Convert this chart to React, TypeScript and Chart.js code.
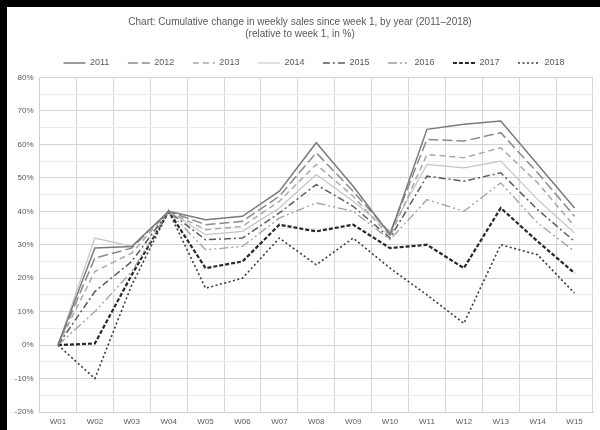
import React, { useEffect, useRef } from 'react';
import { Chart, registerables } from 'chart.js';

Chart.register(...registerables);

// Week labels along the x axis
const weeks = ['W01', 'W02', 'W03', 'W04', 'W05', 'W06', 'W07', 'W08', 'W09', 'W10', 'W11', 'W12', 'W13', 'W14', 'W15'];

// One series per year
const years = ['2011', '2012', '2013', '2014', '2015', '2016', '2017', '2018'];

// Cumulative change since week 1, in %
const y2011 = [0, 29, 29.5, 40, 37.5, 38.5, 46, 60.5, 47.5, 33, 64.5, 66, 67, 54, 41];
const y2012 = [0, 26, 29, 40, 36, 37, 44.5, 57.5, 46, 33.5, 61.5, 61, 63.5, 51.5, 38.5];
const y2013 = [0, 22, 27.5, 40, 34.5, 35.5, 43, 54, 44.5, 32.5, 57, 56, 59, 48.5, 35.5];
const y2014 = [0, 32, 29.5, 40, 33, 34, 41, 51, 43, 34, 54, 53, 55, 43.5, 33.5];
const y2015 = [0, 16, 25, 40, 31.5, 32, 39.5, 48, 41.5, 32, 50.5, 49, 51.5, 40.5, 31];
const y2016 = [0, 10, 22, 40, 28.5, 29.5, 38, 42.5, 40, 31.5, 43.5, 40, 48.5, 36.5, 28];
const y2017 = [0, 0.5, 21, 40, 23, 25, 36, 34, 36, 29, 30, 23, 41, 31, 21.5];
const y2018 = [0, -10, 18, 40, 17, 20, 32, 24, 32, 23, 15, 6.5, 30, 27, 15.5];

// Y axis range and tick step (labels every second step)
const yMin = -20;
const yMax = 80;
const yStep = 5;

const seriesValues = [y2011, y2012, y2013, y2014, y2015, y2016, y2017, y2018];

// Greyscale line styles, one per year
const lineColors = ['#7a7a7a', '#8a8a8a', '#a8a8a8', '#c4c4c4', '#5a5a5a', '#a0a0a0', '#262626', '#3a3a3a'];
const lineDashes: number[][] = [[], [10, 4], [6, 4], [], [7, 3, 2, 3], [9, 3, 2, 3, 2, 3], [4, 2], [2, 2.5]];
const lineThickness = [1.5, 1.5, 1.5, 1.2, 1.5, 1.3, 2.2, 1.6];

const FONT = "'Liberation Sans', Arial, sans-serif";
const TEXT = '#595959';

// Nudges the centred legend row to the right
const legendShift = {
  id: 'legendShift',
  afterLayout(chart: any) {
    const lg = chart.legend;
    if (lg) {
      lg.left += 14;
      lg.right += 14;
    }
  },
};

export default function App() {
  const canvasRef = useRef<HTMLCanvasElement | null>(null);

  useEffect(() => {
    if (!canvasRef.current) return;
    const chart = new Chart(canvasRef.current, {
      type: 'line',
      data: {
        labels: weeks,
        datasets: years.map((yr, i) => ({
          label: yr,
          data: seriesValues[i],
          borderColor: lineColors[i],
          backgroundColor: lineColors[i],
          borderDash: lineDashes[i],
          borderWidth: lineThickness[i],
          pointRadius: 0,
          pointHoverRadius: 0,
          pointStyle: 'line',
          tension: 0,
          fill: false,
        })),
      },
      options: {
        responsive: false,
        animation: false,
        layout: { padding: { top: 0, left: 0, right: 7, bottom: 0 } },
        plugins: {
          title: {
            display: true,
            text: [
              'Chart: Cumulative change in weekly sales since week 1, by year (2011–2018)',
              '(relative to week 1, in %)',
            ],
            color: TEXT,
            font: { family: FONT, size: 10, weight: 'normal', lineHeight: 1.2 },
            padding: { top: 9, bottom: 0 },
          },
          legend: {
            display: true,
            position: 'top',
            labels: {
              usePointStyle: true,
              pointStyle: 'line',
              pointStyleWidth: 22,
              padding: 18.5,
              color: TEXT,
              font: { family: FONT, size: 9 },
              // legend samples carry each line's own dash and width
              generateLabels(c: any) {
                const items = Chart.defaults.plugins.legend.labels.generateLabels(c);
                return items.map((it: any) => {
                  const ds = c.data.datasets[it.datasetIndex];
                  return {
                    ...it,
                    lineDash: ds.borderDash,
                    lineWidth: ds.borderWidth,
                    strokeStyle: ds.borderColor,
                    fillStyle: ds.borderColor,
                    pointStyle: 'line',
                  };
                });
              },
            },
          },
          tooltip: { enabled: false },
        },
        scales: {
          x: {
            type: 'category',
            offset: true,
            grid: { offset: true, color: '#d6d6d6', drawTicks: false },
            border: { color: '#cfcfcf' },
            ticks: { color: TEXT, font: { family: FONT, size: 8 }, padding: 5, maxRotation: 0, autoSkip: false },
            afterFit(scale: any) {
              scale.height = 18;
            },
          },
          y: {
            min: yMin,
            max: yMax,
            grid: {
              drawTicks: false,
              color: (ctx: any) => (ctx.tick && ctx.tick.value % 10 === 0 ? '#d2d2d2' : '#ebebeb'),
            },
            border: { color: '#cfcfcf' },
            ticks: {
              stepSize: yStep,
              autoSkip: false,
              color: TEXT,
              font: { family: FONT, size: 8 },
              padding: 6,
              callback: (v: any) => (Number(v) % 10 === 0 ? `${v}%` : ''),
            },
            afterFit(scale: any) {
              scale.width = 32.5;
            },
          },
        },
      },
      plugins: [legendShift],
    });
    return () => chart.destroy();
  }, []);

  return (
    <div
      style={{
        position: 'fixed',
        left: 0,
        top: 0,
        width: 600,
        height: 430,
        boxSizing: 'border-box',
        borderTop: '7px solid #000',
        borderLeft: '7px solid #000',
        background: '#fff',
      }}
    >
      <canvas ref={canvasRef} width={593} height={423} style={{ display: 'block', width: 593, height: 423 }} />
    </div>
  );
}
